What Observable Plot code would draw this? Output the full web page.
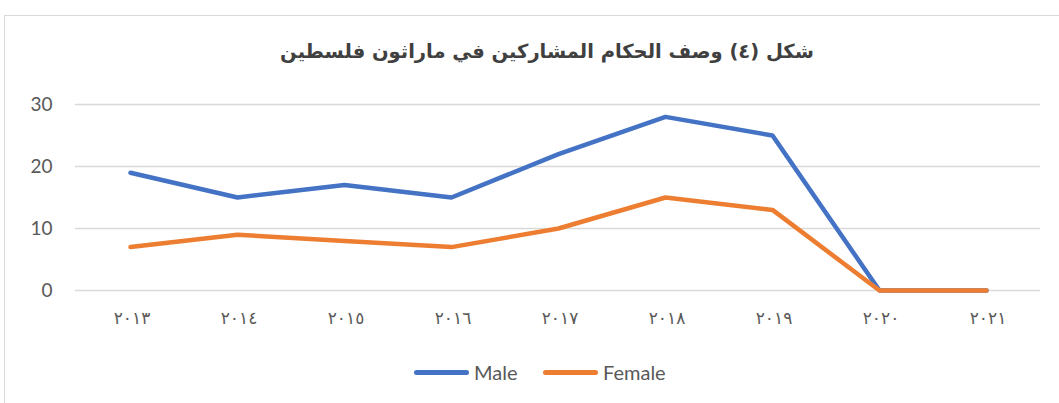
<!DOCTYPE html>
<html><head><meta charset="utf-8">
<script src="https://cdn.jsdelivr.net/npm/d3@7"></script>
<script src="https://cdn.jsdelivr.net/npm/@observablehq/plot@0.6"></script>
<style>
body{margin:0;background:#fff;}
#wrap{position:relative;width:1059px;height:403px;overflow:hidden;background:#fff;}
#frame{position:absolute;left:4px;top:15px;width:1200px;height:600px;border:1px solid #d9d9d9;box-sizing:border-box;}
#title{position:absolute;left:0;top:0;width:1094px;height:85px;line-height:104px;text-align:center;font-family:"DejaVu Sans",sans-serif;font-weight:bold;font-size:19.5px;color:#404040;direction:rtl;}
#chart{position:absolute;left:0;top:85px;}
#legend{position:absolute;left:0;top:356px;width:1059px;height:32px;font-family:Lato,"Open Sans",sans-serif;font-size:20px;color:#595959;}
.li{position:absolute;top:0;height:32px;line-height:32px;}
.sw{display:inline-block;width:55px;height:5px;border-radius:3px;vertical-align:middle;margin-right:5px;position:relative;top:-2px;}
.xt text{letter-spacing:3px;}
</style></head>
<body>
<div id="wrap">
<div id="frame"></div>
<div id="title"></div>
<div id="chart"></div>
<div id="legend"></div>
</div>
<script>
const title = "شكل (٤) وصف الحكام المشاركين في ماراثون فلسطين";
const years = ["٢٠١٣","٢٠١٤","٢٠١٥","٢٠١٦","٢٠١٧","٢٠١٨","٢٠١٩","٢٠٢٠","٢٠٢١"];
const male = [19, 15, 17, 15, 22, 28, 25, 0, 0];
const female = [7, 9, 8, 7, 10, 15, 13, 0, 0];
const seriesNames = ["Male", "Female"];
const seriesColors = ["#4472C4", "#ED7D31"];
const yTicks = [0, 10, 20, 30];

document.getElementById("title").textContent = title;

const rows = [];
years.forEach((y, i) => {
  rows.push({year: y, value: male[i], series: seriesNames[0]});
  rows.push({year: y, value: female[i], series: seriesNames[1]});
});

const chart = Plot.plot({
  width: 1059,
  height: 255,
  marginTop: 19,
  marginBottom: 50,
  marginLeft: 75,
  marginRight: 19,
  style: {background: "transparent", overflow: "visible"},
  x: {type: "point", domain: years, padding: 0.5, label: null},
  y: {domain: [0, 30], label: null},
  color: {domain: seriesNames, range: seriesColors},
  marks: [
    Plot.ruleY(yTicks, {stroke: "#d9d9d9", strokeWidth: 1.5}),
    Plot.axisY(yTicks, {tickSize: 0, tickPadding: 23, fontSize: 19, fill: "#595959", fontFamily: "Lato, 'Open Sans', sans-serif", label: null}),
    Plot.axisX({tickSize: 0, tickPadding: 21, fontSize: 17, fill: "#595959", fontFamily: "'DejaVu Sans', sans-serif", label: null, className: "xt", dx: 1.5}),
    Plot.line(rows, {x: "year", y: "value", z: "series", stroke: "series", strokeWidth: 4.5, strokeLinecap: "round", strokeLinejoin: "miter"})
  ]
});
document.getElementById("chart").appendChild(chart);

const legend = document.getElementById("legend");
const lefts = [414, 543];
seriesNames.forEach((n, i) => {
  const d = document.createElement("div");
  d.className = "li";
  d.style.left = lefts[i] + "px";
  const s = document.createElement("span");
  s.className = "sw";
  s.style.background = seriesColors[i];
  d.appendChild(s);
  d.appendChild(document.createTextNode(n));
  legend.appendChild(d);
});
</script>
</body></html>
